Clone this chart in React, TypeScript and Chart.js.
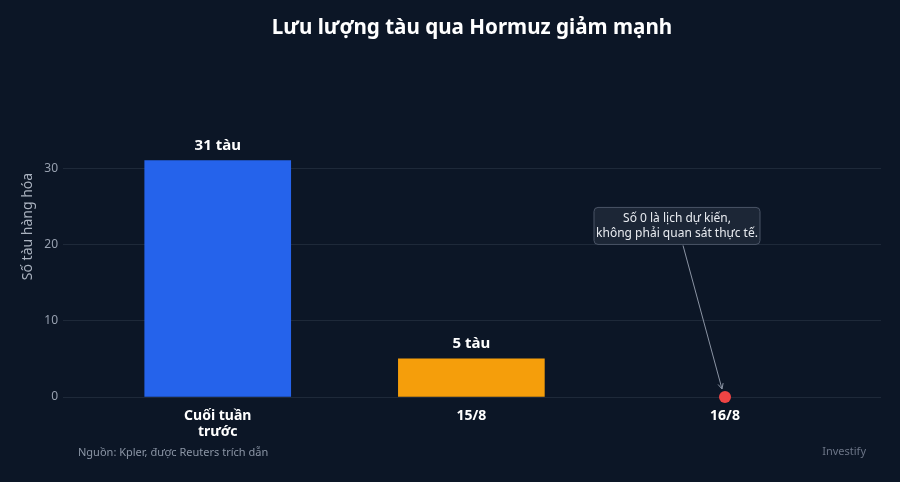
import { useEffect, useRef } from "react"
import { Chart, registerables } from "chart.js"

Chart.register(...registerables)

// dữ liệu
const categories = [["Cuối tuần", "trước"], "15/8", "16/8"]
const vessels = [31, 5, 0]
const barColors = ["#2563eb", "#f59e0b", "#ef4444"]
const valueLabels = ["31 tàu", "5 tàu", ""]
const yTicks = [0, 10, 20, 30]
const scheduledIndex = 2
const noteLines = ["Số 0 là lịch dự kiến,", "không phải quan sát thực tế."]

const FONT = "'Noto Sans', 'Open Sans', sans-serif"
const BG = "#0c1626"

const decorPlugin = {
  id: "decor",
  beforeDraw(chart: any) {
    const { ctx, width } = chart
    ctx.save()
    ctx.fillStyle = BG
    ctx.fillRect(0, 0, width, chart.height)
    ctx.restore()
  },
  afterDraw(chart: any) {
    const { ctx, chartArea, scales } = chart
    const x = scales.x
    const y = scales.y
    ctx.save()

    // tiêu đề
    ctx.fillStyle = "#ffffff"
    ctx.font = `bold 20.6px ${FONT}`
    ctx.textAlign = "center"
    ctx.textBaseline = "middle"
    ctx.fillText("Lưu lượng tàu qua Hormuz giảm mạnh", (chartArea.left + chartArea.right) / 2, 28)

    // tiêu đề trục y
    ctx.save()
    ctx.translate(28, (chartArea.top + chartArea.bottom) / 2)
    ctx.rotate(-Math.PI / 2)
    ctx.fillStyle = "#aab2bf"
    ctx.font = `14px ${FONT}`
    ctx.fillText("Số tàu hàng hóa", 0, 0)
    ctx.restore()

    // nhãn giá trị trên cột
    const meta = chart.getDatasetMeta(0)
    ctx.fillStyle = "#ffffff"
    ctx.font = `bold 15px ${FONT}`
    ctx.textBaseline = "alphabetic"
    meta.data.forEach((bar: any, i: number) => {
      if (!valueLabels[i]) return
      ctx.fillText(valueLabels[i], bar.x, bar.y - 11)
    })

    // ghi chú + mũi tên
    const px = x.getPixelForValue(scheduledIndex)
    const py = y.getPixelForValue(0)
    const boxW = 166
    const boxH = 37
    const bx = px - 48 - boxW / 2
    const by = y.getPixelForValue(20) - boxH
    ctx.beginPath()
    ctx.roundRect(bx, by, boxW, boxH, 4)
    ctx.fillStyle = "#1c2636"
    ctx.fill()
    ctx.strokeStyle = "#4a5466"
    ctx.lineWidth = 1
    ctx.stroke()
    ctx.fillStyle = "#e8ebf0"
    ctx.font = `12px ${FONT}`
    ctx.textBaseline = "middle"
    noteLines.forEach((line, i) => {
      ctx.fillText(line, bx + boxW / 2, by + 11 + i * 15)
    })

    const sx = bx + boxW / 2 + 6
    const sy = by + boxH + 1
    const ex = px - 3
    const ey = py - 8
    ctx.beginPath()
    ctx.moveTo(sx, sy)
    ctx.lineTo(ex, ey)
    ctx.strokeStyle = "#8a93a3"
    ctx.stroke()
    const ang = Math.atan2(ey - sy, ex - sx)
    ctx.beginPath()
    ctx.moveTo(ex - 6 * Math.cos(ang - 0.45), ey - 6 * Math.sin(ang - 0.45))
    ctx.lineTo(ex, ey)
    ctx.lineTo(ex - 6 * Math.cos(ang + 0.45), ey - 6 * Math.sin(ang + 0.45))
    ctx.stroke()

    // chân trang
    ctx.textBaseline = "middle"
    ctx.font = `11px ${FONT}`
    ctx.textAlign = "left"
    ctx.fillStyle = "#8b95a5"
    ctx.fillText("Nguồn: Kpler, được Reuters trích dẫn", 78, 453)
    ctx.textAlign = "right"
    ctx.fillStyle = "#6b7486"
    ctx.fillText("Investify", 866, 452)

    ctx.restore()
  },
}

function HormuzChart() {
  const chartRef = useRef<HTMLCanvasElement>(null)
  const chartInstance = useRef<Chart | null>(null)

  useEffect(() => {
    if (!chartRef.current) return
    if (chartInstance.current) chartInstance.current.destroy()
    const ctx = chartRef.current.getContext("2d")
    if (!ctx) return

    chartInstance.current = new Chart(ctx, {
      type: "bar",
      data: {
        datasets: [
          {
            type: "bar",
            // cột 16/8 không vẽ, chỉ hiện chấm đỏ
            data: vessels.map((v, i) => ({ x: i, y: i === scheduledIndex ? null : v })),
            backgroundColor: barColors,
            borderWidth: 0,
            barThickness: 146,
          } as any,
          {
            type: "scatter",
            data: [{ x: scheduledIndex, y: vessels[scheduledIndex] }],
            backgroundColor: barColors[scheduledIndex],
            pointRadius: 6,
            borderWidth: 0,
            clip: false,
          } as any,
        ],
      },
      options: {
        animation: false,
        responsive: true,
        maintainAspectRatio: false,
        layout: { padding: { top: 56, right: 19, left: 0, bottom: 0 } },
        plugins: {
          legend: { display: false },
          tooltip: { enabled: false },
        },
        scales: {
          x: {
            type: "linear",
            min: -0.61,
            max: 2.615,
            offset: false,
            grid: { display: false },
            border: { display: false },
            afterBuildTicks: (scale: any) => {
              scale.ticks = categories.map((_, i) => ({ value: i }))
            },
            afterFit: (scale: any) => {
              scale.height = 85
            },
            ticks: {
              padding: 3,
              color: "#ffffff",
              font: { family: FONT, size: 14, weight: "bold", lineHeight: 1.15 },
              maxRotation: 0,
              autoSkip: false,
              callback: (v: any) => categories[v] as any,
            },
          },
          y: {
            min: 0,
            max: 44.7,
            grid: { color: "#1e2939", drawTicks: false },
            border: { display: false },
            afterBuildTicks: (scale: any) => {
              scale.ticks = yTicks.map((v) => ({ value: v }))
            },
            afterFit: (scale: any) => {
              scale.width = 63
            },
            ticks: {
              padding: 5,
              color: "#98a1b0",
              font: { family: FONT, size: 12 },
            },
          },
        },
      } as any,
      plugins: [decorPlugin],
    })

    return () => {
      if (chartInstance.current) {
        chartInstance.current.destroy()
        chartInstance.current = null
      }
    }
  }, [])

  return (
    <div style={{ width: 900, height: 482, position: "relative" }}>
      <canvas ref={chartRef} />
    </div>
  )
}

export default function App() {
  useEffect(() => {
    document.body.style.margin = "0"
    document.body.style.background = BG
  }, [])
  return <HormuzChart />
}
